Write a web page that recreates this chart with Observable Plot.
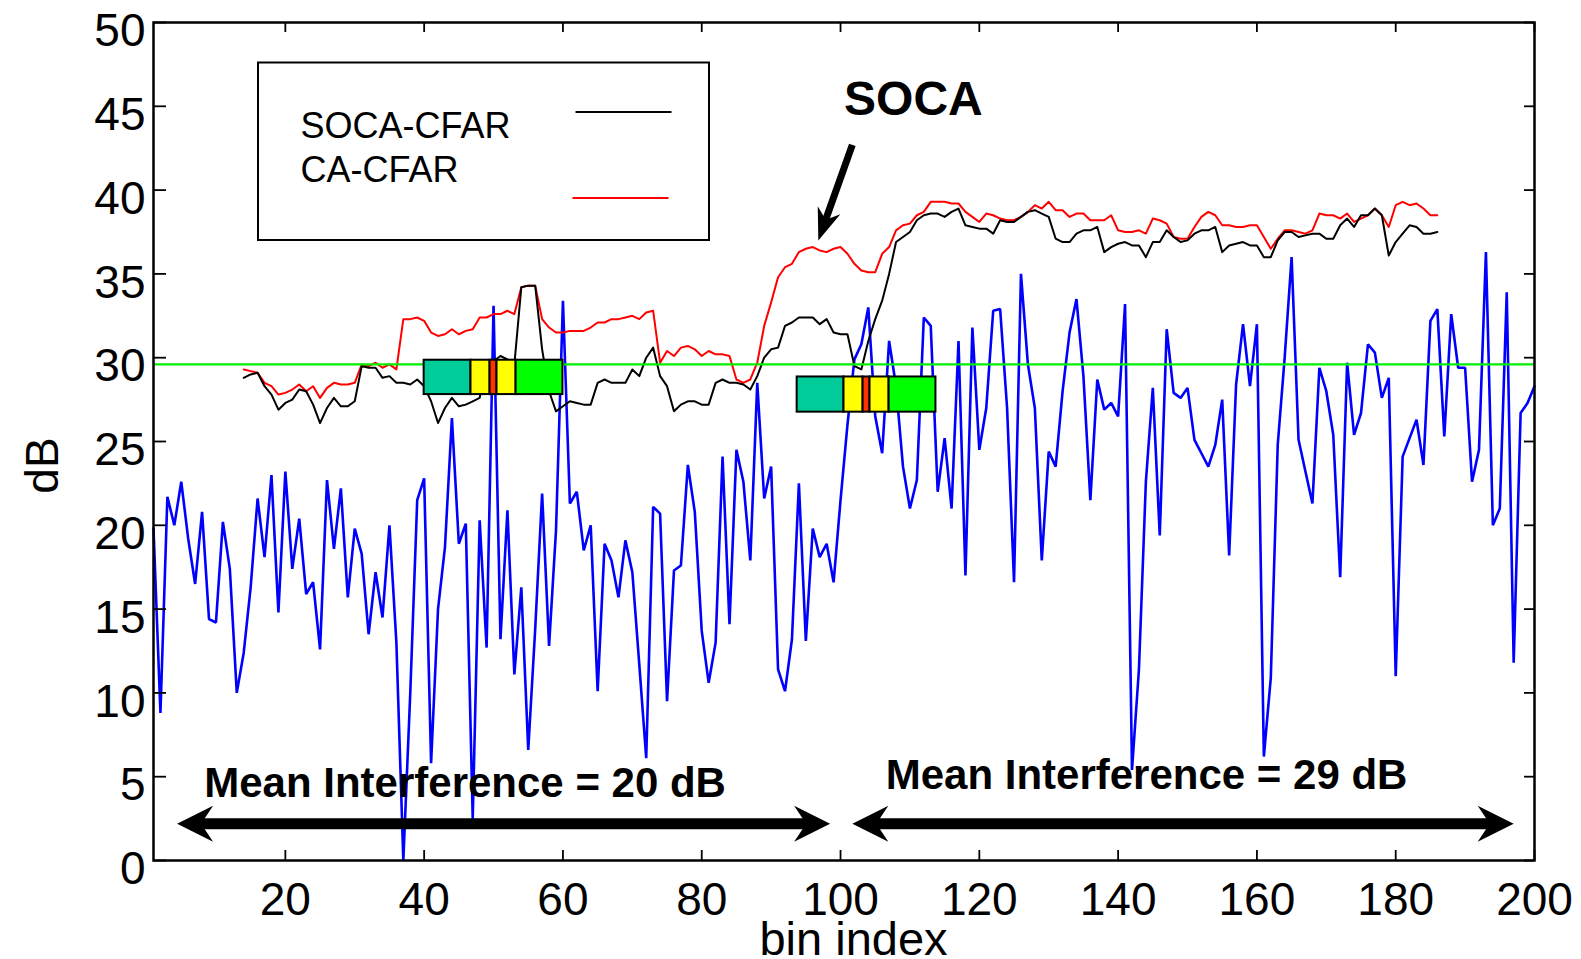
<!DOCTYPE html>
<html>
<head>
<meta charset="utf-8">
<script src="https://cdn.jsdelivr.net/npm/d3@7"></script>
<script src="https://cdn.jsdelivr.net/npm/@observablehq/plot@0.6"></script>
<style>
  html, body { margin: 0; padding: 0; background: #fff; overflow: hidden; }
</style>
</head>
<body>
<div id="chart"></div>
<script>
// ---- received signal (dB) for range bins 1..200 ----
const bins = d3.range(1, 201);
const signal = [
  19.8, 8.8, 21.7, 20.0, 22.6, 19.2, 16.5, 20.8, 14.4, 14.2,
  20.2, 17.4, 10.0, 12.4, 16.3, 21.6, 18.1, 23.0, 14.8, 23.2,
  17.4, 20.4, 15.9, 16.6, 12.6, 22.7, 18.6, 22.2, 15.7, 19.8,
  18.3, 13.5, 17.2, 14.5, 20.0, 13.0, 0.0, 10.0, 21.5, 22.8,
  5.8, 15.0, 18.7, 26.4, 18.9, 20.1, 2.5, 20.3, 12.7, 33.1,
  13.2, 20.9, 11.1, 16.3, 6.6, 13.8, 21.9, 12.8, 19.7, 33.4,
  21.3, 22.0, 18.5, 20.0, 10.1, 18.9, 17.9, 15.7, 19.1, 17.2,
  11.7, 6.1, 21.1, 20.7, 9.5, 17.3, 17.6, 23.6, 20.8, 13.7,
  10.6, 13.0, 24.1, 14.1, 24.5, 22.6, 17.9, 28.5, 21.6, 23.5,
  11.4, 10.1, 13.2, 22.5, 13.1, 19.8, 18.1, 18.9, 16.6, 21.5,
  26.0, 29.9, 30.8, 33.0, 26.5, 24.3, 31.0, 28.3, 23.5, 21.0,
  22.7, 32.4, 31.9, 22.0, 25.2, 21.0, 31.0, 17.0, 31.8, 24.5,
  27.0, 32.8, 32.9, 27.0, 16.6, 35.0, 29.6, 27.0, 17.9, 24.4,
  23.5, 28.0, 31.5, 33.5, 28.9, 21.5, 28.7, 26.9, 27.3, 26.5,
  33.2, 5.4, 11.4, 22.6, 28.2, 19.4, 31.7, 27.9, 27.6, 28.2,
  25.1, 24.3, 23.5, 24.8, 27.5, 18.2, 28.4, 32.0, 28.3, 32.0,
  6.2, 10.9, 24.8, 30.0, 36.0, 25.1, 23.2, 21.3, 29.4, 28.0,
  25.4, 16.9, 29.7, 25.4, 26.7, 30.8, 30.3, 27.6, 28.8, 11.0,
  24.1, 25.2, 26.3, 23.6, 32.2, 32.9, 25.3, 32.6, 29.4, 29.4,
  22.6, 24.5, 36.3, 20.0, 21.0, 33.9, 11.8, 26.7, 27.3, 28.3
];

// ---- detection thresholds (dB) for bins 14..186 ----
const thresholdBins = d3.range(14, 187);
const soca = [
  28.8, 29.0, 29.1, 28.3, 27.8, 26.9, 27.3, 27.5, 28.1, 28.0,
  27.2, 26.1, 27.0, 27.6, 27.1, 27.1, 27.4, 29.5, 29.4, 29.4,
  28.8, 28.9, 28.5, 28.5, 28.4, 28.7, 28.3, 27.4, 26.1, 27.0,
  27.6, 27.1, 27.2, 27.4, 27.6, 29.8, 29.8, 30.1, 29.9, 29.6,
  34.2, 34.3, 34.3, 30.5, 28.0, 26.8, 27.1, 27.4, 27.3, 27.2,
  27.2, 28.5, 28.7, 28.5, 28.5, 28.5, 29.3, 28.9, 30.0, 30.6,
  28.9, 28.3, 26.8, 27.2, 27.4, 27.4, 27.2, 27.2, 28.5, 28.7,
  28.5, 28.5, 28.4, 28.1, 28.9, 30.0, 30.5, 30.6, 31.9, 32.1,
  32.4, 32.4, 32.4, 32.0, 32.3, 31.5, 31.4, 31.4, 29.5, 29.3,
  31.0, 32.3, 33.4, 35.0, 36.9, 37.2, 37.5, 38.2, 38.5, 38.6,
  38.6, 38.4, 38.7, 38.9, 37.9, 37.8, 37.7, 37.7, 37.4, 38.2,
  38.1, 38.1, 38.4, 38.7, 38.8, 38.6, 38.4, 37.1, 36.9, 36.9,
  37.4, 37.6, 37.6, 37.8, 36.3, 36.6, 36.8, 36.9, 36.7, 36.7,
  36.0, 36.9, 36.9, 37.6, 37.2, 36.9, 37.0, 37.4, 37.6, 37.6,
  37.8, 36.3, 36.7, 36.8, 36.9, 36.7, 36.7, 36.0, 36.0, 37.0,
  37.5, 37.5, 37.2, 37.3, 37.4, 37.4, 37.1, 37.1, 37.9, 38.3,
  37.8, 38.5, 38.5, 38.9, 38.5, 36.1, 36.9, 37.4, 37.9, 37.8,
  37.4, 37.4, 37.5
];
const ca = [
  29.3, 29.2, 29.1, 28.5, 28.3, 27.8, 27.9, 28.1, 28.4, 28.0,
  28.3, 27.6, 28.2, 28.5, 28.4, 28.4, 28.5, 29.6, 29.5, 29.7,
  29.4, 29.6, 29.3, 32.3, 32.3, 32.4, 32.2, 31.5, 31.3, 31.4,
  31.7, 31.4, 31.6, 31.7, 32.4, 32.4, 32.6, 32.6, 32.8, 32.6,
  34.2, 34.3, 34.3, 32.3, 31.8, 31.5, 31.5, 31.6, 31.6, 31.6,
  31.8, 32.1, 32.1, 32.3, 32.3, 32.4, 32.5, 32.3, 32.7, 32.8,
  29.7, 30.4, 30.1, 30.6, 30.7, 30.5, 30.1, 30.4, 30.2, 30.2,
  30.1, 28.7, 28.5, 28.7, 29.7, 31.9, 33.3, 34.8, 35.4, 35.6,
  36.3, 36.5, 36.6, 36.4, 36.3, 36.5, 36.6, 36.2, 35.6, 35.2,
  35.1, 35.1, 36.2, 36.6, 37.6, 37.9, 38.0, 38.5, 38.7, 39.3,
  39.3, 39.3, 39.2, 39.2, 38.7, 38.4, 38.1, 38.6, 38.5, 38.3,
  38.2, 38.2, 38.4, 38.7, 39.1, 38.9, 39.3, 38.8, 38.8, 38.4,
  38.6, 38.6, 38.2, 38.2, 38.2, 38.5, 37.6, 37.5, 37.5, 37.6,
  37.4, 38.3, 38.2, 38.0, 37.2, 37.1, 37.1, 37.8, 38.4, 38.7,
  38.5, 37.9, 37.9, 37.8, 37.8, 37.9, 37.9, 37.2, 36.5, 37.1,
  37.6, 37.6, 37.5, 37.4, 37.6, 38.6, 38.5, 38.5, 38.3, 38.6,
  38.1, 38.3, 38.5, 38.9, 38.5, 37.8, 39.1, 39.3, 39.1, 39.2,
  38.9, 38.5, 38.5
];
const fixedThreshold = 29.6;

// ---- CFAR reference windows: training / guard / cell under test ----
const windowStart = [40, 93.75];
const windowLow = [27.8, 26.75];
const windowHigh = [29.85, 28.85];
const cellSpans = [6.75, 2.75, 1, 2.75, 6.75];
const cellFill = ["#00cc99", "#ffff00", "#ff3300", "#ffff00", "#00ff00"];

// ---- annotations ----
const legendLabels = ["SOCA-CFAR", "CA-CFAR"];
const legendColors = ["black", "#ff0000"];
const spanFrom = [4.4, 101.7];
const spanTo = [98.5, 197.0];
const spanLevel = 2.2;
const spanLabels = ["Mean Interference = 20 dB", "Mean Interference = 29 dB"];
const spanLabelX = [45.9, 144.1];
const spanLabelY = [3.8, 4.25];
const calloutText = "SOCA";
const calloutTextAt = [110.5, 44.5];
const calloutFrom = [101.7, 42.7];
const calloutTo = [96.8, 37.0];

const xTicks = d3.range(20, 201, 20);
const yTicks = d3.range(0, 51, 5);

// ---- layout ----
const W = 1581, H = 959;
const ML = 153, MR = 47, MT = 22, MB = 99;
const frameW = W - ML - MR, frameH = H - MT - MB;
const kx = frameW / (200 - 1);   // px per bin
const ky = frameH / 50;          // px per dB
const xd = (px) => 1 + (px - ML) / kx;      // pixel -> bin
const yd = (py) => (H - MB - py) / ky;      // pixel -> dB

// tables for the library
const signalRows = bins.map((b, i) => ({bin: b, dB: signal[i]}));
const socaRows = thresholdBins.map((b, i) => ({bin: b, dB: soca[i]}));
const caRows = thresholdBins.map((b, i) => ({bin: b, dB: ca[i]}));

const cells = [];
windowStart.forEach((start, w) => {
  let x = start;
  cellSpans.forEach((span, c) => {
    cells.push({x1: x, x2: x + span, y1: windowLow[w], y2: windowHigh[w], fill: cellFill[c]});
    x += span;
  });
});

// concave arrowhead, tip at the origin pointing to -x
function arrowHead(len, half, notch) {
  return {
    draw(context) {
      context.moveTo(0, 0);
      context.lineTo(len, -half);
      context.lineTo(notch, 0);
      context.lineTo(len, half);
      context.closePath();
    }
  };
}
const bigHead = arrowHead(36, 18, 24);
const smallHead = arrowHead(32, 12, 22);

// span arrows (double headed)
const shaftTrim = 22 / kx;
const spanShafts = spanFrom.map((f, i) => ({x1: f + shaftTrim, x2: spanTo[i] - shaftTrim, y: spanLevel}));
const spanHeads = [];
spanFrom.forEach((f, i) => {
  spanHeads.push({x: f, y: spanLevel, angle: 0});
  spanHeads.push({x: spanTo[i], y: spanLevel, angle: 180});
});

// callout arrow
const cdx = (calloutTo[0] - calloutFrom[0]) * kx;
const cdy = -(calloutTo[1] - calloutFrom[1]) * ky;
const cAngle = Math.atan2(cdy, cdx) * 180 / Math.PI;
const cLen = Math.hypot(cdx, cdy);
const cTrim = 20 / cLen;
const calloutShaft = [{
  x1: calloutFrom[0], y1: calloutFrom[1],
  x2: calloutTo[0] - (calloutTo[0] - calloutFrom[0]) * cTrim,
  y2: calloutTo[1] - (calloutTo[1] - calloutFrom[1]) * cTrim
}];
const calloutHead = [{x: calloutTo[0], y: calloutTo[1], angle: cAngle - 180}];

// legend geometry (pixels inside the frame)
const legendBox = [{x1: xd(258), x2: xd(709), y1: yd(240), y2: yd(62.5)}];
const legendText = legendLabels.map((t, i) => ({t, x: xd(300), y: yd([137, 181][i])}));
const legendLines = legendColors.map((c, i) => ({
  c, x1: xd([575, 572][i]), x2: xd([671, 668][i]), y: yd([111.5, 197.5][i])
}));

const chart = Plot.plot({
  width: W, height: H,
  marginLeft: ML, marginRight: MR, marginTop: MT, marginBottom: MB,
  style: {
    fontFamily: "'Liberation Sans', Arial, Helvetica, sans-serif",
    background: "white",
    color: "black"
  },
  x: {domain: [1, 200], axis: null},
  y: {domain: [0, 50], axis: null},
  marks: [
    // data
    Plot.line(signalRows, {x: "bin", y: "dB", stroke: "#0000ff", strokeWidth: 2.6, strokeLinejoin: "miter"}),
    Plot.line(caRows, {x: "bin", y: "dB", stroke: "#ff0000", strokeWidth: 2}),
    Plot.line(socaRows, {x: "bin", y: "dB", stroke: "black", strokeWidth: 2}),
    Plot.ruleY([fixedThreshold], {stroke: "#00ee00", strokeWidth: 2.4}),

    // CFAR windows
    Plot.rect(cells, {x1: "x1", x2: "x2", y1: "y1", y2: "y2", fill: "fill", stroke: "black", strokeWidth: 2}),

    // span arrows and labels
    Plot.link(spanShafts, {x1: "x1", x2: "x2", y1: "y", y2: "y", stroke: "black", strokeWidth: 11, strokeLinecap: "butt"}),
    Plot.dot(spanHeads, {x: "x", y: "y", rotate: "angle", symbol: bigHead, fill: "black", stroke: "none", r: 10}),
    Plot.text(spanLabels, {
      x: (d, i) => spanLabelX[i], y: (d, i) => spanLabelY[i], text: (d) => d,
      fontSize: 42, fontWeight: "bold", lineAnchor: "bottom", textAnchor: "middle", fill: "black"
    }),

    // callout
    Plot.text([calloutText], {
      x: calloutTextAt[0], y: calloutTextAt[1], text: (d) => d,
      fontSize: 48, fontWeight: "bold", lineAnchor: "bottom", textAnchor: "middle", fill: "black"
    }),
    Plot.link(calloutShaft, {x1: "x1", y1: "y1", x2: "x2", y2: "y2", stroke: "black", strokeWidth: 7, strokeLinecap: "butt"}),
    Plot.dot(calloutHead, {x: "x", y: "y", rotate: "angle", symbol: smallHead, fill: "black", stroke: "none", r: 10}),

    // legend
    Plot.rect(legendBox, {x1: "x1", x2: "x2", y1: "y1", y2: "y2", fill: "white", stroke: "black", strokeWidth: 2}),
    Plot.text(legendText, {x: "x", y: "y", text: "t", fontSize: 36, textAnchor: "start", lineAnchor: "bottom", fill: "black"}),
    Plot.link(legendLines, {x1: "x1", x2: "x2", y1: "y", y2: "y", stroke: "c", strokeWidth: 2}),

    // box and inward ticks on all four sides
    Plot.frame({stroke: "black", strokeWidth: 2.5}),
    Plot.tickY(yTicks, {y: (d) => d, insetRight: frameW - 13, stroke: "black", strokeWidth: 1.8}),
    Plot.tickY(yTicks, {y: (d) => d, insetLeft: frameW - 10, stroke: "black", strokeWidth: 1.8}),
    Plot.tickX(xTicks, {x: (d) => d, insetTop: frameH - 10, stroke: "black", strokeWidth: 1.8}),
    Plot.tickX(xTicks, {x: (d) => d, insetBottom: frameH - 10, stroke: "black", strokeWidth: 1.8}),

    // tick labels
    Plot.axisX(xTicks, {tickSize: 0, tickPadding: 22, fontSize: 46, label: null, fill: "black"}),
    Plot.axisY(yTicks, {tickSize: 0, tickPadding: 8, dy: 9, fontSize: 46, label: null, fill: "black"}),

    // axis titles
    Plot.text(["bin index"], {frameAnchor: "bottom", dx: 9.5, dy: 94, text: (d) => d, fontSize: 47, lineAnchor: "bottom", fill: "black"}),
    Plot.text(["dB"], {frameAnchor: "left", dx: -96, dy: 24, text: (d) => d, fontSize: 46, rotate: -90, lineAnchor: "bottom", textAnchor: "middle", fill: "black"})
  ]
});

document.getElementById("chart").appendChild(chart);
</script>
</body>
</html>
